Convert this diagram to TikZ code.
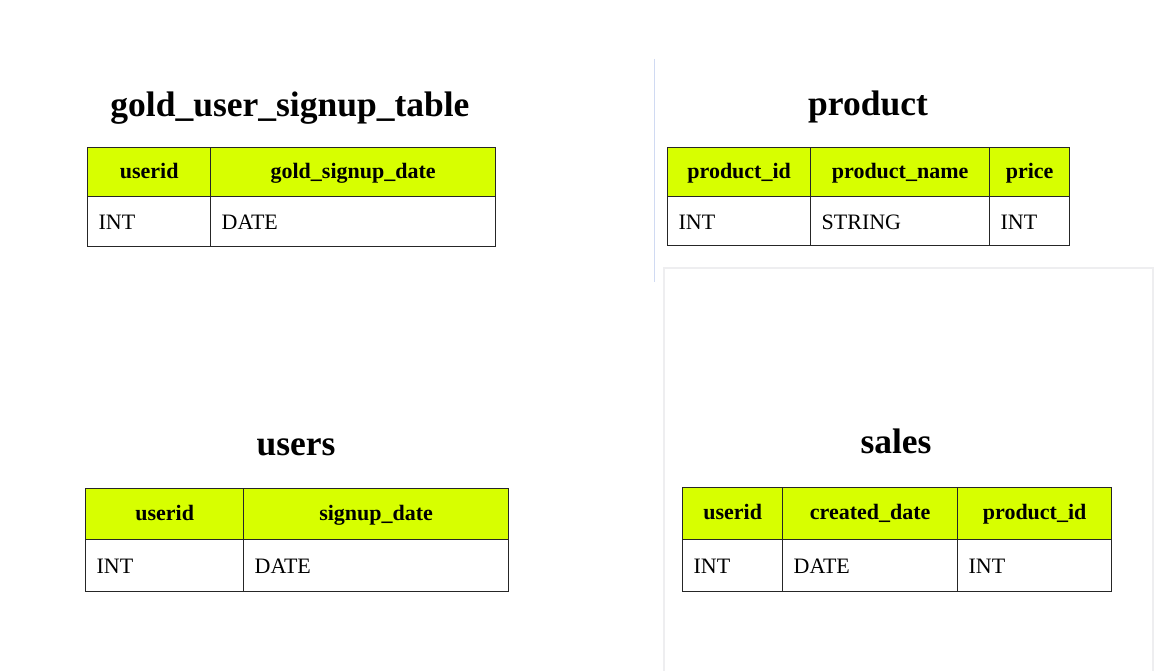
\documentclass[tikz,border=0pt]{standalone}
\usepackage{fontspec}
\setmainfont{Liberation Serif}
\definecolor{headlime}{RGB}{215,255,0}
\definecolor{panelgray}{RGB}{238,238,240}
\definecolor{rulblue}{RGB}{208,218,242}
\begin{document}
\begin{tikzpicture}[x=1pt,y=-1pt,
    title/.style={anchor=base,font=\fontsize{35.5}{40}\selectfont\bfseries},
    hdr/.style={draw=black!85,line width=1.3pt,fill=headlime,anchor=north west,inner sep=0pt,
        text height=16pt,text depth=4pt,font=\fontsize{22}{26}\selectfont\bfseries},
    cell/.style={draw=black!85,line width=1.3pt,anchor=north west,inner xsep=11pt,inner ysep=0pt,
        align=left,text height=16pt,text depth=0pt,font=\fontsize{22}{26}\selectfont}]
    \useasboundingbox (0,0) rectangle (1176,671);
    \draw[panelgray,line width=1.5pt] (664,671) -- (664,268) -- (1153,268) -- (1153,671);
    \draw[rulblue,line width=1.2pt] (654.5,59) -- (654.5,282);
    % gold_user_signup_table
    \node[title] (goldtitle) at (290,117) {gold\_user\_signup\_table};
    \foreach \l/\r/\h/\b [count=\j from 1] in {87/210/userid/INT,210/495/gold\_signup\_date/DATE} {
        \pgfmathsetmacro{\w}{\r-\l}
        \node[hdr,minimum width=\w pt,minimum height=49pt] (goldh\j) at (\l,147) {\h};
        \node[cell,minimum height=50pt,text width=\w pt-22pt] (goldb\j) at (\l,196) {\b};
    }
    % product
    \node[title] (prodtitle) at (868,116) {product};
    \foreach \l/\r/\h/\b [count=\j from 1] in {667/810/product\_id/INT,810/989/product\_name/STRING,989/1069/price/INT} {
        \pgfmathsetmacro{\w}{\r-\l}
        \node[hdr,minimum width=\w pt,minimum height=49pt] (prodh\j) at (\l,147) {\h};
        \node[cell,minimum height=49pt,text width=\w pt-22pt] (prodb\j) at (\l,196) {\b};
    }
    % users
    \node[title] (usertitle) at (296,455) {users};
    \foreach \l/\r/\h/\b [count=\j from 1] in {85/243/userid/INT,243/508/signup\_date/DATE} {
        \pgfmathsetmacro{\w}{\r-\l}
        \node[hdr,minimum width=\w pt,minimum height=51pt] (userh\j) at (\l,488) {\h};
        \node[cell,minimum height=52pt,text width=\w pt-22pt] (userb\j) at (\l,539) {\b};
    }
    % sales
    \node[title] (saletitle) at (896,453) {sales};
    \foreach \l/\r/\h/\b [count=\j from 1] in {682/782/userid/INT,782/957/created\_date/DATE,957/1111/product\_id/INT} {
        \pgfmathsetmacro{\w}{\r-\l}
        \node[hdr,minimum width=\w pt,minimum height=52pt] (saleh\j) at (\l,487) {\h};
        \node[cell,minimum height=52pt,text width=\w pt-22pt] (saleb\j) at (\l,539) {\b};
    }
\end{tikzpicture}
\end{document}
